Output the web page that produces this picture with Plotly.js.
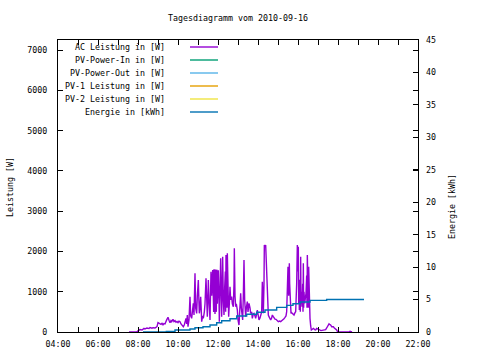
<!DOCTYPE html>
<html>
<head>
<meta charset="utf-8">
<script src="https://cdn.plot.ly/plotly-3.0.1.min.js"></script>
<style>html,body{margin:0;padding:0;background:#fff;}#chart{width:480px;height:360px;}</style>
</head>
<body>
<div id="chart"></div>
<script>
var day = '2010-09-16';
var titleText = 'Tagesdiagramm vom 2010-09-16';
var seriesNames = ['AC Leistung in [W]', 'PV-Power-In in [W]', 'PV-Power-Out in [W]', 'PV-1 Leistung in [W]', 'PV-2 Leistung in [W]', 'Energie in [kWh]'];
var seriesColors = ['#9400d3', '#009e73', '#56b4e9', '#e69f00', '#f0e442', '#0072b2'];
var xTickVals = ['04:00','06:00','08:00','10:00','12:00','14:00','16:00','18:00','20:00','22:00'];

var acTimes = ['07:33','07:45','07:57','08:00','08:06','08:12','08:18','08:21','08:27','08:33','08:36','08:42','08:45','08:51','08:57',
'09:00','09:03','09:06','09:09','09:12','09:15','09:18','09:21','09:26','09:30','09:33','09:36','09:39','09:41','09:45','09:48','09:51','09:54','09:57',
'10:00','10:03','10:06','10:09','10:11','10:14','10:16','10:19','10:21','10:24','10:26','10:28','10:30','10:33','10:36','10:38','10:41','10:43','10:46','10:48','10:51','10:53','10:56','10:58',
'11:01','11:03','11:04','11:06','11:08','11:10','11:11','11:14','11:16','11:19','11:21','11:24','11:26','11:28','11:30','11:31','11:33','11:34','11:36','11:39','11:41','11:44','11:45','11:46','11:47','11:48','11:49','11:50','11:51','11:52','11:53','11:54','11:55','11:56','11:57','11:58','12:00','12:01','12:03','12:04','12:06','12:08','12:10','12:11','12:13','12:14','12:16','12:18','12:20','12:22','12:23','12:24','12:25','12:26','12:27','12:28','12:30','12:32','12:34','12:36','12:38','12:41','12:43','12:46','12:48','12:49','12:51','12:53','12:55','12:58',
'13:00','13:03','13:05','13:08','13:10','13:14','13:16','13:18','13:20','13:23','13:25','13:28','13:30','13:33','13:36','13:38','13:41','13:43','13:46','13:48','13:51','13:53','13:56','13:58',
'14:01','14:03','14:06','14:08','14:11','14:13','14:15','14:16','14:18','14:19','14:21','14:23','14:25','14:26','14:28','14:29','14:31','14:33','14:36','14:38','14:41','14:43','14:46','14:48','14:51','14:54','14:58',
'15:01','15:05','15:08','15:11','15:14','15:18','15:21','15:24','15:26','15:28','15:30','15:32','15:34','15:35','15:36','15:38','15:39','15:41','15:43','15:46','15:48','15:51','15:53','15:56','15:58',
'16:00','16:01','16:02','16:03','16:04','16:05','16:06','16:07','16:08','16:09','16:10','16:12','16:14','16:15','16:16','16:17','16:18','16:20','16:22','16:24','16:26','16:27','16:28','16:29','16:30','16:31','16:32','16:34','16:36','16:38','16:40','16:43','16:46','16:50','16:53','16:56',
'17:00','17:03','17:06','17:09','17:12','17:16','17:20','17:23','17:26','17:30','17:33','17:36','17:38','17:41','17:44','17:46','17:49','17:51','17:54','17:56','17:58',
'18:01','18:10','18:18','18:33','18:36','18:38','18:42'];
var acPower = [0,0,5,30,60,50,90,75,100,85,110,95,107,100,132,
232,215,220,190,215,180,210,200,300,364,290,232,280,256,314,260,281,240,260,
232,270,256,200,174,150,132,180,232,339,200,422,132,300,877,400,339,600,711,420,1456,600,463,900,
1291,700,463,600,877,500,256,400,339,500,700,1332,600,381,900,1291,800,546,300,1497,900,1539,600,1520,500,1560,700,1530,450,1550,650,1540,500,1545,1510,700,1522,1530,800,256,1000,1828,900,381,1200,1870,800,422,1100,1500,500,1911,700,1400,600,1953,900,381,700,1125,800,877,700,629,1200,2077,900,629,700,546,
300,174,500,960,600,298,900,1787,800,381,600,753,500,711,600,463,500,339,450,463,400,339,450,546,
400,298,350,422,500,1249,700,463,1200,2159,2100,2159,1600,1291,800,505,420,381,330,298,350,422,380,339,320,314,280,
256,270,256,280,298,330,364,400,505,1000,1622,900,1704,1200,794,505,463,480,463,450,422,480,505,1200,2159,
1500,2118,700,1000,546,1300,1200,500,1870,700,1000,629,1200,500,1704,600,1000,711,900,960,1400,600,1911,800,1200,600,1622,800,339,150,50,70,91,60,50,90,
70,50,40,35,40,45,40,60,100,160,203,180,174,132,130,132,100,91,60,50,20,
0,0,0,0,20,10,0];

var energyTimes = ['08:15','09:25','09:51','10:36','10:51','11:15','11:36','11:56','12:11','12:36','12:56','13:26','13:56','14:21','14:56','15:26','15:45','16:06','16:36','17:26','19:18'];
var energyValues = [0,0.1,0.3,0.46,0.66,0.82,1.08,1.43,1.74,2.05,2.47,2.73,3.04,3.39,3.8,4.11,4.36,4.62,4.88,5.02,5.02];

var pvInTimes = [], pvInValues = [];
var pvOutTimes = [], pvOutValues = [];
var pv1Times = [], pv1Values = [];
var pv2Times = [], pv2Values = [];

function ts(list){ return list.map(function(t){ return day + ' ' + t; }); }

var FONT = 'DejaVu Sans Mono, monospace';
var FS = 8.3;

var traces = [
  {x: ts(acTimes), y: acPower, type: 'scatter', mode: 'lines', line: {color: seriesColors[0], width: 1.4}, name: seriesNames[0], yaxis: 'y'},
  {x: ts(pvInTimes), y: pvInValues, type: 'scatter', mode: 'lines', line: {color: seriesColors[1], width: 1.4}, name: seriesNames[1], yaxis: 'y'},
  {x: ts(pvOutTimes), y: pvOutValues, type: 'scatter', mode: 'lines', line: {color: seriesColors[2], width: 1.4}, name: seriesNames[2], yaxis: 'y'},
  {x: ts(pv1Times), y: pv1Values, type: 'scatter', mode: 'lines', line: {color: seriesColors[3], width: 1.4}, name: seriesNames[3], yaxis: 'y'},
  {x: ts(pv2Times), y: pv2Values, type: 'scatter', mode: 'lines', line: {color: seriesColors[4], width: 1.4}, name: seriesNames[4], yaxis: 'y'},
  {x: ts(energyTimes), y: energyValues, type: 'scatter', mode: 'lines', line: {color: seriesColors[5], width: 1.4, shape: 'hv'}, name: seriesNames[5], yaxis: 'y2'}
];

var L = 58, R = 418, T = 40, B = 332;
function px2x(p){ return (p - L) / (R - L); }
function py2y(p){ return (B - p) / (B - T); }

var annotations = [], shapes = [];
seriesNames.forEach(function(n, i){
  var yy = py2y(47 + 13 * i);
  annotations.push({xref: 'paper', yref: 'paper', x: px2x(167), y: yy, text: n, showarrow: false, xanchor: 'right', yanchor: 'middle', font: {family: FONT, size: FS, color: '#000'}});
  shapes.push({type: 'line', xref: 'paper', yref: 'paper', x0: px2x(190), x1: px2x(218), y0: yy, y1: yy, line: {color: seriesColors[i], width: 1.4}});
});
annotations.push({xref: 'paper', yref: 'paper', x: px2x(10), y: py2y(187), text: 'Leistung [W]', textangle: -90, showarrow: false, xanchor: 'center', yanchor: 'middle', font: {family: FONT, size: FS, color: '#000'}});
annotations.push({xref: 'paper', yref: 'paper', x: px2x(452), y: py2y(207), text: 'Energie [kWh]', textangle: -90, showarrow: false, xanchor: 'center', yanchor: 'middle', font: {family: FONT, size: FS, color: '#000'}});

var layout = {
  width: 480, height: 360,
  margin: {l: L, r: 480 - R, t: T, b: 360 - B, pad: 0},
  paper_bgcolor: '#fff', plot_bgcolor: '#fff',
  showlegend: false,
  font: {family: FONT, size: FS, color: '#000'},
  title: {text: titleText, x: 0.5, xref: 'paper', xanchor: 'center', y: 1 - 18/360, yanchor: 'middle', font: {family: FONT, size: FS, color: '#000'}},
  xaxis: {
    type: 'date', range: [day + ' 04:00', day + ' 22:00'],
    tickmode: 'array', tickvals: ts(xTickVals), ticktext: xTickVals,
    ticks: 'inside', ticklen: 5, tickcolor: '#000', tickwidth: 1,
    minor: {tickmode: 'linear', dtick: 3600000, tick0: day + ' 05:00', ticks: 'inside', ticklen: 3, tickcolor: '#000'},
    showline: true, linecolor: '#000', linewidth: 1, mirror: 'allticks',
    showgrid: false, zeroline: false, ticklabelstandoff: 4,
    tickfont: {family: FONT, size: FS, color: '#000'}
  },
  yaxis: {
    range: [0, 7250], tickmode: 'linear', tick0: 0, dtick: 1000,
    ticks: 'inside', ticklen: 5, tickcolor: '#000',
    showline: true, linecolor: '#000', linewidth: 1, mirror: 'allticks',
    showgrid: false, zeroline: false, ticklabelstandoff: 8,
    tickfont: {family: FONT, size: FS, color: '#000'}
  },
  yaxis2: {
    overlaying: 'y', side: 'right', range: [0, 45], tickmode: 'linear', tick0: 0, dtick: 5,
    ticks: 'inside', ticklen: 5, tickcolor: '#000',
    showline: false, showgrid: false, zeroline: false, ticklabelstandoff: 7,
    tickfont: {family: FONT, size: FS, color: '#000'}
  },
  annotations: annotations,
  shapes: shapes
};

Plotly.newPlot('chart', traces, layout, {staticPlot: true, displayModeBar: false});
</script>
</body>
</html>
